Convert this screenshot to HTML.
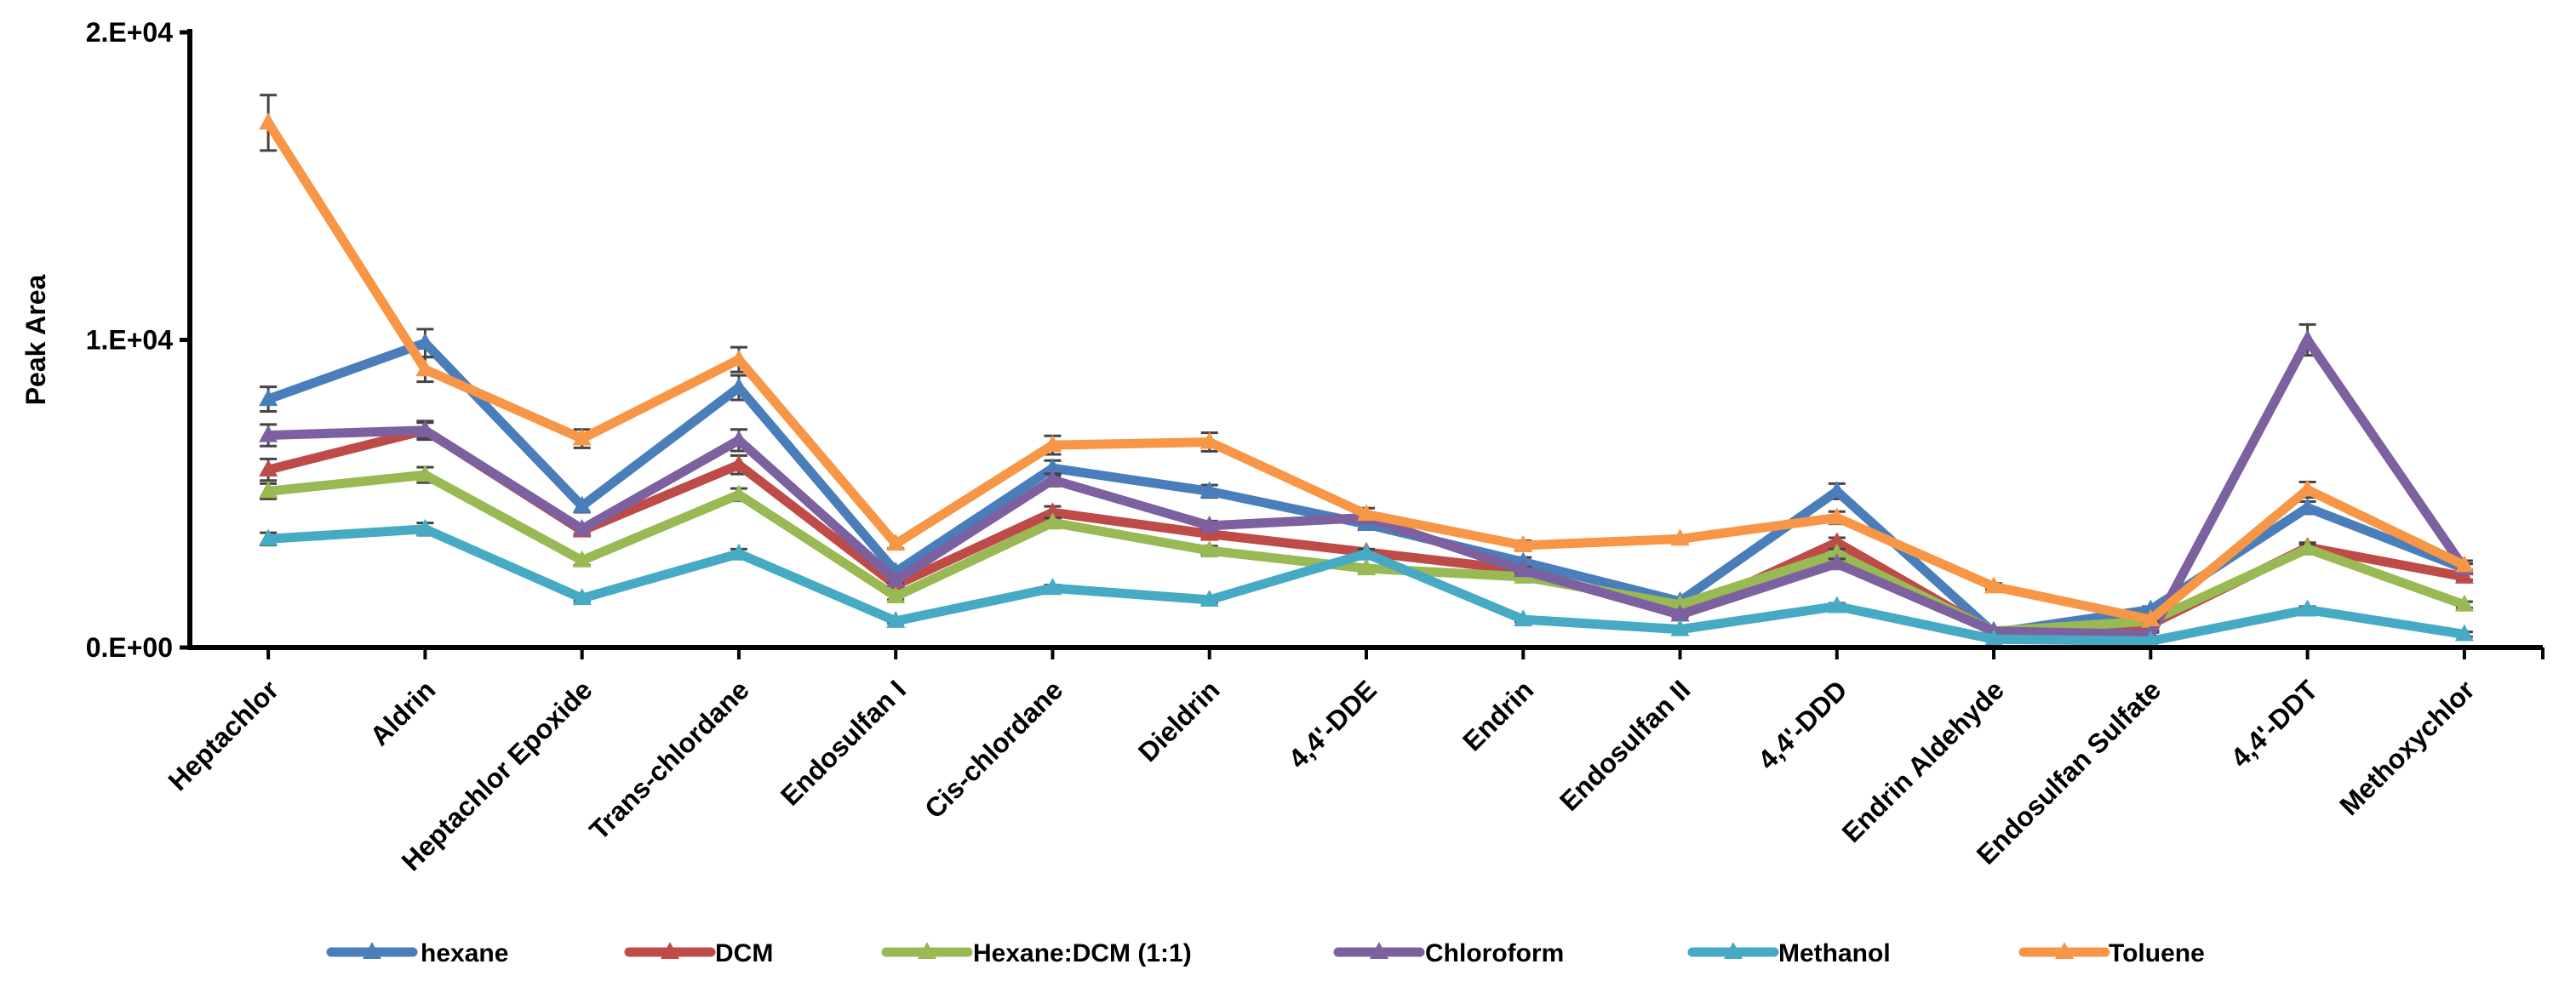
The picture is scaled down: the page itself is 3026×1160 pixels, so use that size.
<!DOCTYPE html>
<html><head><meta charset="utf-8">
<style>
html,body{margin:0;padding:0;background:#fff;}
svg{display:block;font-family:"Liberation Sans",sans-serif;}
</style></head>
<body>
<svg id="chart" width="3026" height="1160" viewBox="0 0 3026 1160" xmlns="http://www.w3.org/2000/svg">
<rect width="3026" height="1160" fill="#fff"/>
<g id="grid"></g>
<g id="series"></g>
<g id="axes"></g>
<g id="legend"></g>
</svg>
<script>
const categories = ["Heptachlor","Aldrin","Heptachlor Epoxide","Trans-chlordane","Endosulfan I","Cis-chlordane","Dieldrin","4,4'-DDE","Endrin","Endosulfan II","4,4'-DDD","Endrin Aldehyde","Endosulfan Sulfate","4,4'-DDT","Methoxychlor"];
const seriesNames = ["hexane","DCM","Hexane:DCM (1:1)","Chloroform","Methanol","Toluene"];
const seriesColors = ["#4a7ebb","#be4b48","#98b954","#7d60a0","#46aac5","#f79646"];
const hexane     = [8075,9900,4600,8450,2460,5830,5080,4010,2780,1500,5080,480,1230,4545,2570];
const dcm        = [5780,7060,3800,5940,2030,4390,3690,3100,2510,1070,3420,480,750,3260,2300];
const hexaneDcm  = [5080,5610,2830,4970,1660,4060,3150,2570,2300,1390,3050,530,860,3210,1390];
const chloroform = [6900,7060,3850,6740,2190,5450,3960,4220,2510,1070,2730,530,430,10000,2570];
const methanol   = [3530,3850,1600,3050,860,1930,1550,3050,910,590,1340,270,210,1230,430];
const toluene    = [17060,9040,6790,9360,3370,6580,6680,4330,3320,3530,4220,1980,910,5130,2670];
const hexaneErr     = [400,450,200,400,150,250,200,150,150,100,250,80,100,200,150];
const dcmErr        = [350,250,150,300,100,200,150,100,100,80,150,60,60,150,100];
const hexaneDcmErr  = [250,250,150,200,100,150,150,100,100,80,150,60,60,150,100];
const chloroformErr = [350,300,150,350,100,200,150,150,100,80,150,60,60,500,150];
const methanolErr   = [200,200,100,150,80,100,100,150,80,60,100,50,50,100,80];
const toluneErr     = [900,400,300,400,150,300,300,200,150,100,200,100,80,250,150];
const yTicks = [0,10000,20000];
const yTickLabels = ["0.E+00","1.E+04","2.E+04"];

const allSeries = [hexane,dcm,hexaneDcm,chloroform,methanol,toluene];
const allErr = [hexaneErr,dcmErr,hexaneDcmErr,chloroformErr,methanolErr,toluneErr];

const NS="http://www.w3.org/2000/svg";
const X0=223, X1=2987, Y0=761, YTOP=38, YMAX=20000;
const step=(X1-X0)/categories.length;
function xPos(i){return X0+step*(i+0.5);}
function yPos(v){return Y0-(v/YMAX)*(Y0-YTOP);}
function mk(tag,attrs,parent){const e=document.createElementNS(NS,tag);for(const k in attrs)e.setAttribute(k,attrs[k]);parent.appendChild(e);return e;}

const seriesG=document.getElementById('series');
const axesG=document.getElementById('axes');
const legendG=document.getElementById('legend');

allSeries.forEach((data,s)=>{
  const g=mk('g',{},seriesG);
  
  
  data.forEach((v,i)=>{
    const e=allErr[s][i], x=xPos(i);
    const eb=mk('path',{d:`M${x},${yPos(v+e)}V${yPos(v-e)}M${x-10},${yPos(v+e)}h20M${x-10},${yPos(v-e)}h20`,stroke:'#444',"stroke-width":3,fill:'none'},g);
    
    
  });
  const pts=data.map((v,i)=>xPos(i)+','+yPos(v)).join(' ');
  const line=mk('polyline',{points:pts,fill:'none',stroke:seriesColors[s],"stroke-width":11,"stroke-linejoin":'miter'},g);
  
  
  data.forEach((v,i)=>{
    const x=xPos(i),y=yPos(v);
    const m=mk('path',{d:`M${x},${y-12}L${x+11},${y+8}L${x-11},${y+8}Z`,fill:seriesColors[s]},g);
    
    
  });
});

const ya=mk('line',{x1:X0,y1:YTOP-4,x2:X0,y2:Y0+3,stroke:'#000',"stroke-width":6},axesG);


const xa=mk('line',{x1:X0-3,y1:Y0,x2:X1,y2:Y0,stroke:'#000',"stroke-width":6},axesG);


yTicks.forEach((t,i)=>{
  const y=yPos(t);
  const tk=mk('line',{x1:X0-12,y1:y,x2:X0,y2:y,stroke:'#000',"stroke-width":5},axesG);
  
  
  const tx=mk('text',{x:X0-20,y:y+11,"text-anchor":'end',"font-size":32,"font-weight":'bold',fill:'#000'},axesG);
  tx.textContent=yTickLabels[i];
  
  
});
for(let i=0;i<=categories.length;i++){
  const x=(i<categories.length)?xPos(i):X1;
  const tk=mk('line',{x1:x,y1:Y0,x2:x,y2:Y0+14,stroke:'#000',"stroke-width":4},axesG);
  
  
}
categories.forEach((c,i)=>{
  const x=xPos(i)+14, y=Y0+52;
  const t=mk('text',{x:x,y:y,"text-anchor":'end',transform:`rotate(-45 ${x} ${y})`,"font-size":32,"font-weight":'bold',fill:'#000'},axesG);
  t.textContent=c;
  
  
});
const yt=mk('text',{x:0,y:0,transform:`translate(53 ${(Y0+YTOP)/2}) rotate(-90)`,"text-anchor":'middle',"font-size":32,"font-weight":'bold',fill:'#000'},axesG);
yt.textContent='Peak Area';



const legX=[389,739,1041,1572,1988,2377];
const legTextX=[494,840,1143,1674,2089,2477];
seriesNames.forEach((n,s)=>{
  const g=mk('g',{},legendG);
  
  
  const y=1119;
  mk('line',{x1:legX[s],y1:y,x2:legX[s]+96,y2:y,stroke:seriesColors[s],"stroke-width":11,"stroke-linecap":'round'},g);
  const cx=legX[s]+48;
  mk('path',{d:`M${cx},${y-12}L${cx+11},${y+8}L${cx-11},${y+8}Z`,fill:seriesColors[s]},g);
  const t=mk('text',{x:legTextX[s],y:y+11,"font-size":30,"font-weight":'bold',fill:'#000'},g);
  t.textContent=n;
});
</script>
</body></html>
